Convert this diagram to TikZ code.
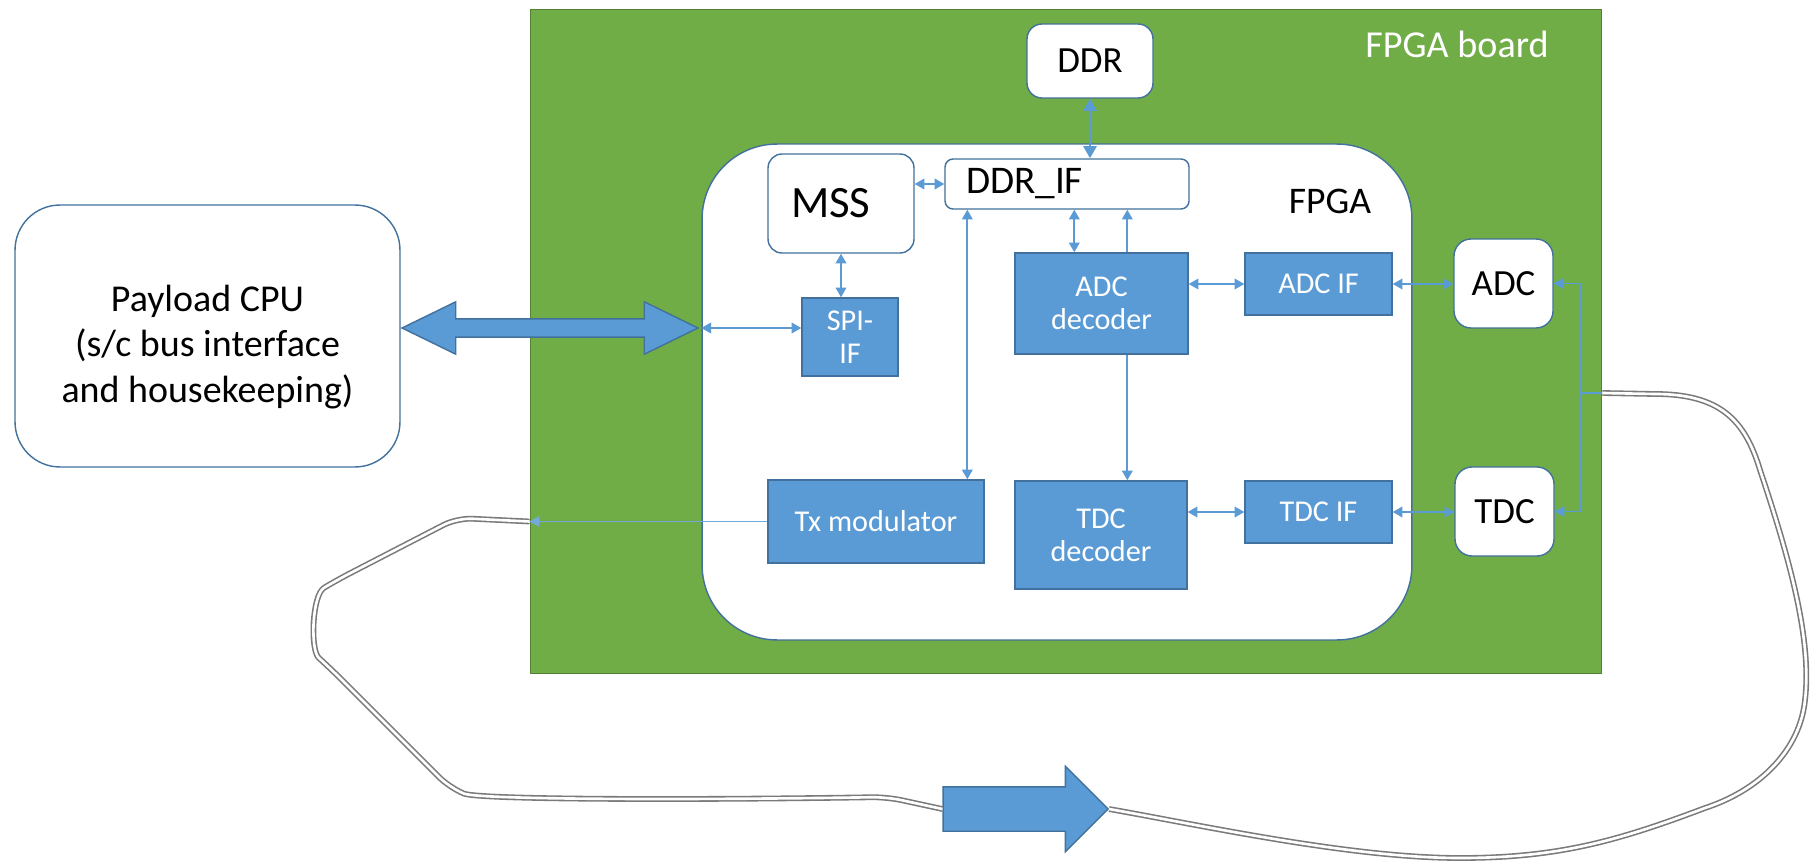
\documentclass[tikz,border=0pt]{standalone}
\usepackage{fontspec}
\setmainfont{Carlito}
\usetikzlibrary{positioning,arrows.meta,shapes.arrows,calc}

\definecolor{boardgreen}{HTML}{70AD47}
\definecolor{boardedge}{HTML}{548235}
\definecolor{blockblue}{HTML}{5B9BD5}
\definecolor{boxline}{HTML}{41719C}
\definecolor{cablegray}{HTML}{7A7A7A}

\begin{document}
\begin{tikzpicture}[
    x=0.02cm, y=-0.02cm,
    board/.style={rectangle, draw=boardedge, fill=boardgreen, line width=0.6pt, minimum width=21.44cm, minimum height=13.3cm},
    fpga/.style={rectangle, rounded corners=1.5cm, draw=boxline, fill=white, line width=0.8pt, minimum width=14.2cm, minimum height=9.92cm},
    whitebox/.style={rectangle, rounded corners=0.3cm, draw=boxline, fill=white, line width=0.8pt, text=black},
    block/.style={rectangle, draw=boxline, fill=blockblue, line width=0.8pt, text=white, align=center, font=\fontsize{17.2}{19}\selectfont},
    link/.style={draw=blockblue, line width=1pt, >={Triangle[length=5.5pt,width=6pt]}},
    txlink/.style={draw=blockblue!85, line width=0.5pt, >={Triangle[length=5.5pt,width=6pt]}},
    cable/.style={draw=cablegray, double=white, double distance=1.5pt, line width=0.9pt},
    bigarrow/.style={draw=boxline, fill=blockblue, line width=0.8pt, inner xsep=0pt}
]
\useasboundingbox (0,0) rectangle (1811,861);

% Nodes
\node[board] (board) at (1066,341.5) {};
\node[text=white, font=\fontsize{21.7}{25}\selectfont] (boardlabel) at (1457,44) {FPGA board};
\node[fpga] (fpga) at (1057,392) {};
\node[font=\fontsize{21.4}{25}\selectfont] (fpgalabel) at (1330,201) {FPGA};

\node[whitebox, minimum width=2.52cm, minimum height=1.48cm, font=\fontsize{21}{25}\selectfont] (ddr) at (1090,61) {DDR};
\node[whitebox, rounded corners=0.16cm, minimum height=1cm, text width=4.04cm, inner xsep=0.42cm, align=left, font=\fontsize{22.3}{26}\selectfont] (ddrif) at (1067,184) {DDR\_IF};
\node[whitebox, rounded corners=0.28cm, minimum height=1.98cm, text width=2cm, inner xsep=0.46cm, align=left, font=\fontsize{25.5}{29}\selectfont] (mss) at (841,203.5) {MSS};

\node[block, minimum width=1.92cm, minimum height=1.56cm] (spi) at (850,337) {SPI-\\IF};
\node[block, minimum width=3.46cm, minimum height=2.02cm] (adcdec) at (1101.5,303.5) {ADC\\decoder};
\node[block, minimum width=3.44cm, minimum height=2.16cm] (tdcdec) at (1101,535) {TDC\\decoder};
\node[block, minimum width=4.32cm, minimum height=1.66cm] (tx) at (876,521.5) {Tx modulator};
\node[block, minimum width=2.94cm, minimum height=1.24cm] (adcif) at (1318.5,284) {ADC IF};
\node[block, minimum width=2.94cm, minimum height=1.24cm] (tdcif) at (1318.5,512) {TDC IF};

\node[whitebox, rounded corners=0.34cm, minimum width=1.98cm, minimum height=1.78cm, font=\fontsize{21}{25}\selectfont] (adc) at (1503.5,283.5) {ADC};
\node[whitebox, rounded corners=0.34cm, minimum width=1.98cm, minimum height=1.78cm, font=\fontsize{21}{25}\selectfont] (tdc) at (1504.5,511.5) {TDC};

\node[whitebox, rounded corners=0.9cm, minimum width=7.7cm, minimum height=5.24cm] (cpu) at (207.5,336) {};
\node[align=center, font=\fontsize{21.6}{26}\selectfont] (cputext) at ($(cpu.center)+(0,11)$) {Payload CPU\\(s/c bus interface\\and housekeeping)};

\node[bigarrow, double arrow, double arrow tip angle=52, double arrow head extend=0.34cm, inner ysep=0.17cm, minimum height=5.92cm] (bus) at (550,328) {};
\node[bigarrow, single arrow, single arrow head extend=0.41cm, inner ysep=0.43cm, minimum height=3.3cm, anchor=tip] (flow) at (1109,809) {};

% Connections
\coordinate (busin) at (fpga.west |- bus.east);
\draw[link, <->] (busin) -- (busin -| spi.west);
\draw[link, <->] (mss.east |- ddrif.west) -- (ddrif.west);
\draw[link, <->] (mss.south) -- (mss.south |- spi.north);
\draw[link, line width=1.6pt, >={Triangle[length=7pt,width=7.5pt]}, <->] (ddr.south) -- (ddr.south |- ddrif.north);

\coordinate (txup) at ([xshift=0.46cm]ddrif.south west);
\draw[link, <->] (txup) -- (txup |- tx.north);
\coordinate (decin) at ([xshift=1.2cm]adcdec.north west);
\draw[link, <->] (decin) -- (decin |- ddrif.south);
\coordinate (decout) at ([xshift=2.26cm]adcdec.north west);
\draw[link, ->] (decout) -- (decout |- ddrif.south);
\draw[link, ->] (decout |- adcdec.south) -- (decout |- tdcdec.north);

\draw[link, <->] (adcdec.east |- adcif.west) -- (adcif.west);
\draw[link, <->] (tdcdec.east |- tdcif.west) -- (tdcif.west);
\draw[link, <->] (adcif.east) -- (adcif.east -| adc.west);
\draw[link, <->] (tdcif.east) -- (tdcif.east -| tdc.west);

\coordinate (split) at (1581,393);
\draw[link, <->] (adc.east) -- (adc.east -| split) -- (tdc.east -| split) -- (tdc.east);
\coordinate (cableR) at (board.east |- split);
\draw[link] (split) -- (cableR);

\coordinate (txout) at (board.west |- tx.west);
\draw[txlink, ->] (tx.west) -- (txout);

% Cable loop
\draw[cable, rounded corners=0.3cm] (txout) -- (457,518) -- (337,580)
    .. controls (312,595) and (310,650) .. (330,668) -- (450,788)
    .. controls (480,800) and (700,800) .. (887,797) -- (flow.tail);
\draw[cable] (cableR) -- (1655,394)
    .. controls (1720,394) and (1745,420) .. (1760,470)
    .. controls (1790,560) and (1812,640) .. (1805,700)
    .. controls (1800,750) and (1760,790) .. (1705,808)
    .. controls (1620,840) and (1560,858) .. (1460,858)
    .. controls (1350,858) and (1200,825) .. (flow.tip);
\end{tikzpicture}
\end{document}
